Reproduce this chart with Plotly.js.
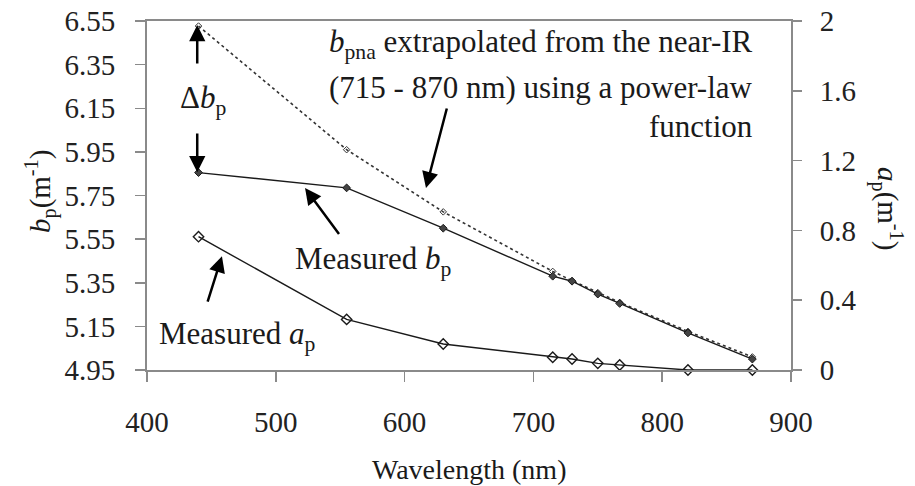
<!DOCTYPE html>
<html>
<head>
<meta charset="utf-8">
<script src="https://cdn.plot.ly/plotly-3.0.1.min.js"></script>
<style>
html,body{margin:0;padding:0;background:#fff;}
#chart{width:915px;height:486px;}
</style>
</head>
<body>
<div id="chart"></div>
<script>
// ---- data ----
const wavelength = [440, 555, 630, 715, 730, 750, 767, 820, 870];
const bpMeasured = [5.855, 5.785, 5.600, 5.380, 5.357, 5.298, 5.255, 5.120, 5.000];
const bpnaExtrap = [6.527, 5.960, 5.675, 5.402, 5.360, 5.305, 5.260, 5.127, 5.010];
const apMeasured = [0.764, 0.290, 0.149, 0.073, 0.063, 0.038, 0.029, 0.000, 0.000];
const xTicks = [400, 500, 600, 700, 800, 900];
const bpTicks = [4.95, 5.15, 5.35, 5.55, 5.75, 5.95, 6.15, 6.35, 6.55];
const apTicks = [0, 0.4, 0.8, 1.2, 1.6, 2];

const FONT = 'Liberation Serif';
const INK = '#1a1a1a';
const AXIS = '#8a8a8a';

const traces = [
  {x: wavelength, y: bpnaExtrap, xaxis: 'x', yaxis: 'y', mode: 'lines+markers',
   line: {color: '#333', width: 1.6, dash: 'dot'},
   marker: {symbol: 'diamond-open', size: 5, color: '#333', line: {width: 1, color: '#333'}},
   cliponaxis: false, hoverinfo: 'skip'},
  {x: wavelength, y: bpMeasured, xaxis: 'x', yaxis: 'y', mode: 'lines+markers',
   line: {color: INK, width: 1.4},
   marker: {symbol: 'diamond', size: 6, color: '#444', line: {width: 1, color: INK}},
   cliponaxis: false, hoverinfo: 'skip'},
  {x: wavelength, y: apMeasured, xaxis: 'x', yaxis: 'y2', mode: 'lines+markers',
   line: {color: INK, width: 1.4},
   marker: {symbol: 'diamond-open', size: 8, color: INK, line: {width: 1.4, color: INK}},
   cliponaxis: false, hoverinfo: 'skip'}
];

const tickFont = {family: FONT, size: 29, color: '#222'};
const annFont = {family: FONT, size: 31, color: INK};

function arrow(x, y, ax, ay) {
  return {xref: 'x', yref: 'y', axref: 'x', ayref: 'y', x: x, y: y, ax: ax, ay: ay,
          showarrow: true, arrowhead: 2, arrowsize: 1.3, arrowwidth: 2.5, arrowcolor: '#000',
          standoff: 0, startstandoff: 0};
}
function txt(text, px, py, anchor) {
  return {xref: 'paper', yref: 'paper', x: (px - 147) / 644, y: (370 - py) / 349,
          xanchor: anchor || 'center', yanchor: 'middle', text: text, showarrow: false, font: annFont};
}

const layout = {
  width: 915, height: 486,
  margin: {l: 147, r: 124, t: 21, b: 116, pad: 0},
  paper_bgcolor: '#fff', plot_bgcolor: '#fff',
  showlegend: false,
  font: {family: FONT, color: INK},
  xaxis: {range: [400, 900], tickvals: xTicks, ticktext: xTicks.map(String),
          showgrid: false, zeroline: false, showline: true, linecolor: AXIS, linewidth: 2,
          mirror: true, ticks: 'outside', ticklen: 10, tickwidth: 1.5, tickcolor: AXIS,
          tickfont: tickFont, ticklabelstandoff: 15},
  yaxis: {range: [4.95, 6.55], tickvals: bpTicks, ticktext: bpTicks.map(v => v.toFixed(2)),
          showgrid: false, zeroline: false, showline: true, linecolor: AXIS, linewidth: 2,
          ticks: 'outside', ticklen: 10, tickwidth: 1.5, tickcolor: AXIS,
          tickfont: tickFont, ticklabelstandoff: 14},
  yaxis2: {range: [0, 2], overlaying: 'y', side: 'right', anchor: 'x',
           tickvals: apTicks, ticktext: apTicks.map(String),
           showgrid: false, zeroline: false, showline: true, linecolor: AXIS, linewidth: 2,
           ticks: 'outside', ticklen: 9, tickwidth: 1.5, tickcolor: AXIS,
           tickfont: tickFont, ticklabelstandoff: 12},
  yaxis3: {range: [0, 2], overlaying: 'y', side: 'right', anchor: 'x',
           tickvals: apTicks, showticklabels: false,
           showgrid: false, zeroline: false, showline: false,
           ticks: 'inside', ticklen: 10, tickwidth: 1.5, tickcolor: AXIS},
  annotations: [
    // axis titles
    {xref: 'paper', yref: 'paper', x: 0.5, y: (370 - 470) / 349, xanchor: 'center', yanchor: 'middle',
     text: 'Wavelength (nm)', showarrow: false, font: {family: FONT, size: 28, color: INK}},
    {xref: 'paper', yref: 'paper', x: (40 - 147) / 644, y: (370 - 192) / 349, xanchor: 'center', yanchor: 'middle',
     textangle: -90, text: '<i>b</i><sub>p</sub>(m<sup>-1</sup>)', showarrow: false,
     font: {family: FONT, size: 29, color: INK}},
    {xref: 'paper', yref: 'paper', x: (888 - 147) / 644, y: (370 - 208) / 349, xanchor: 'center', yanchor: 'middle',
     textangle: 90, text: '<i>a</i><sub>p</sub>(m<sup>-1</sup>)', showarrow: false,
     font: {family: FONT, size: 29, color: INK}},
    // text labels
    txt('<i>b</i><sub>pna</sub> extrapolated from the near-IR', 755, 44, 'right'),
    txt('(715 - 870 nm) using a power-law', 755, 88, 'right'),
    txt('function', 755, 127, 'right'),
    txt('Δ<i>b</i><sub>p</sub>', 203, 100),
    txt('Measured <i>b</i><sub>p</sub>', 373, 261),
    txt('Measured <i>a</i><sub>p</sub>', 237, 336),
    // arrows (tip x,y ; tail ax,ay)
    arrow(439, 6.532, 439, 6.316),
    arrow(439, 5.857, 439, 6.073),
    arrow(522.7, 5.784, 551.4, 5.555),
    arrow(458.2, 5.472, 445.0, 5.224),
    arrow(616.6, 5.784, 634.5, 6.188)
  ]
};

Plotly.newPlot('chart', traces, layout, {staticPlot: true, displayModeBar: false});
</script>
</body>
</html>
